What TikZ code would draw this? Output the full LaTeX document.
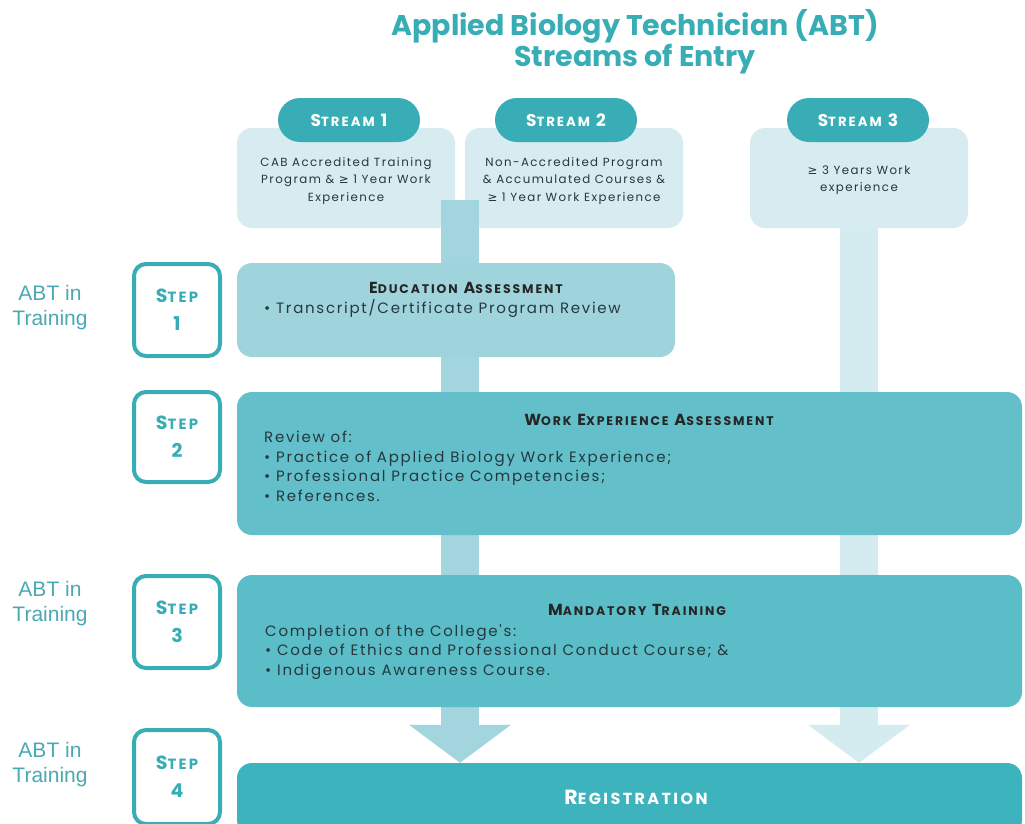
\documentclass[tikz,border=0pt]{standalone}
\usepackage{fontspec}
\setmainfont{Poppins}
\newfontfamily\labfont{Liberation Sans}
\newfontfamily\symfont{DejaVu Sans}
\newfontfamily\bodyfont[LetterSpace=11.5]{Poppins}
\newfontfamily\smallfont[LetterSpace=12]{Poppins}
\newfontfamily\headfont[LetterSpace=15]{Poppins}
\usetikzlibrary{arrows.meta}
\definecolor{tealD}{HTML}{38ADB5}
\definecolor{streamL}{HTML}{D6ECF0}
\definecolor{barL}{HTML}{A2D5DD}
\definecolor{barR}{HTML}{D4EBEF}
\definecolor{eduC}{HTML}{A0D4DD}
\definecolor{workC}{HTML}{63C0CA}
\definecolor{mandC}{HTML}{5BBDC7}
\definecolor{regC}{HTML}{3DB4BD}
\definecolor{txtD}{HTML}{25383E}
\definecolor{labC}{HTML}{4AA9B2}
\makeatletter
\newcommand\fsc[1]{{\fontsize{\fpeval{0.78*\f@size}}{\f@baselineskip}\selectfont #1}}
\makeatother
\newcommand\gee{{\symfont\char"2265}}
\tikzset{
  panel/.style={fill=#1, rounded corners=15pt, inner sep=0pt},
  pill/.style={fill=tealD, rounded corners=22pt, minimum width=142pt, minimum height=44pt, inner sep=0pt,
    text=white, font=\headfont\fontsize{17}{19}\selectfont\bfseries},
  streambox/.style={fill=streamL, rounded corners=15pt, minimum width=218pt, minimum height=100pt, inner sep=0pt},
  streamtxt/.style={text=txtD, align=center, font=\smallfont\fontsize{11.8}{17.5}\selectfont},
  stepbox/.style={draw=tealD, line width=4pt, fill=white, rounded corners=12pt, minimum width=86pt, inner sep=0pt,
    text=tealD, align=center, font=\headfont\fontsize{19}{28}\selectfont\bfseries},
  sidelab/.style={text=labC, align=center, font=\labfont\fontsize{21}{25}\selectfont},
  headtxt/.style={text=black!85, font=\headfont\fontsize{16}{18}\selectfont\bfseries},
  bodytxt/.style={text=txtD, align=left, inner sep=0pt, font=\bodyfont\fontsize{15}{19.5}\selectfont},
  flow/.style={line width=38pt, -{Triangle[width=100pt,length=38pt]}},
}
\begin{document}
\begin{tikzpicture}[x=1pt,y=-1pt]
\useasboundingbox (0,0) rectangle (1025,823);
\clip (0,0) rectangle (1025,823);
\fill[white] (0,0) rectangle (1025,823);

% title
\node[text=tealD, font=\fontsize{28.5}{30}\selectfont\bfseries] (t1) at (635,26) {Applied Biology Technician (ABT)};
\node[text=tealD, font=\fontsize{28.5}{30}\selectfont\bfseries] (t2) at (635,59) {Streams of Entry};

% stream boxes
\node[streambox] (sb1) at (346,178) {};
\node[streambox] (sb2) at (574,178) {};
\node[streambox] (sb3) at (859,178) {};
\node[streamtxt] (st1) at (346,181) {CAB Accredited Training\\Program \& \gee\ 1 Year Work\\Experience};
\node[streamtxt] (st2) at (574,181) {Non-Accredited Program\\\& Accumulated Courses \&\\\gee\ 1 Year Work Experience};
\node[streamtxt] (st3) at (859,180) {\gee\ 3 Years Work\\experience};
\node[pill] (p1) at (349,120) {S\fsc{TREAM} 1};
\node[pill] (p2) at (566,120) {S\fsc{TREAM} 2};
\node[pill] (p3) at (858,120) {S\fsc{TREAM} 3};

% registration box (target of flows)
\node[panel=regC, minimum width=785pt, minimum height=72pt] (reg) at (629.5,799) {};

% flows
\coordinate (b1top) at (460,200);
\coordinate (b3top) at (sb3.south);
\draw[flow, draw=barL, fill=barL] (b1top) -- (b1top |- reg.north);
\draw[flow, draw=barR, fill=barR] (b3top) -- (b3top |- reg.north);

% step panels
\node[panel=eduC, minimum width=438pt, minimum height=94pt] (edu) at (456,310) {};
\node[panel=workC, minimum width=785pt, minimum height=143pt] (work) at (629.5,463.5) {};
\node[panel=mandC, minimum width=785pt, minimum height=132pt] (mand) at (629.5,641) {};

\node[headtxt] (eduh) at (466,288) {E\fsc{DUCATION} A\fsc{SSESSMENT}};
\node[bodytxt, anchor=west] (edub) at (264,308) {• Transcript/Certificate Program Review};

\node[headtxt] (workh) at (649,420) {W\fsc{ORK} E\fsc{XPERIENCE} A\fsc{SSESSMENT}};
\node[bodytxt, anchor=north west] (workb) at (264,431) {Review of:\\• Practice of Applied Biology Work Experience;\\• Professional Practice Competencies;\\• References.};

\node[headtxt] (mandh) at (637,610) {M\fsc{ANDATORY} T\fsc{RAINING}};
\node[bodytxt, anchor=north west] (mandb) at (265,624) {Completion of the College's:\\• Code of Ethics and Professional Conduct Course; \&\\• Indigenous Awareness Course.};

\node[text=white, font=\headfont\fontsize{20.5}{22}\selectfont\bfseries] (regt) at (636,797) {R\fsc{EGISTRATION}};

% steps
\node[stepbox, minimum height=92pt] (s1) at (177,310) {S\fsc{TEP}\\1};
\node[stepbox, minimum height=90pt] (s2) at (177,437) {S\fsc{TEP}\\2};
\node[stepbox, minimum height=92pt] (s3) at (177,622) {S\fsc{TEP}\\3};
\node[stepbox, minimum height=94pt] (s4) at (177,777) {S\fsc{TEP}\\4};

\node[sidelab] (l1) at (50,308) {ABT in\\Training};
\node[sidelab] (l3) at (50,604) {ABT in\\Training};
\node[sidelab] (l4) at (50,765) {ABT in\\Training};
\end{tikzpicture}
\end{document}
